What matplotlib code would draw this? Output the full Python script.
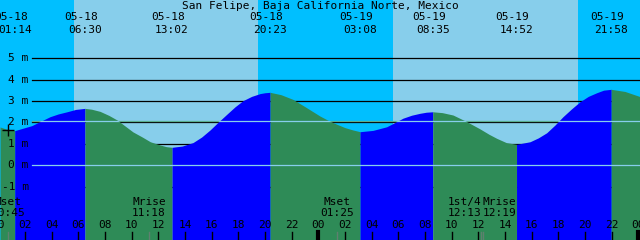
import numpy as np
import matplotlib
matplotlib.use("Agg")
import matplotlib.pyplot as plt
from matplotlib.transforms import blended_transform_factory

# tide level (hours from 05-18 00:00, metres)
tide_hours = [0.13, 0.7, 1.233, 2.5, 3.88, 4.5, 5.15, 5.8, 6.5,
              7.0, 7.63, 8.3, 8.9, 9.5, 10.1, 10.8, 11.4, 12.13, 12.6, 13.033,
              13.8, 14.6, 15.25, 15.88, 16.5, 17.13, 17.75, 18.35, 19.0, 19.63, 20.0, 20.383,
              21.2, 22.1, 23.1, 24.13, 24.8, 25.38, 26.0, 26.6, 27.133,
              28.1, 29.13, 29.75, 30.35, 31.0, 31.63, 32.1, 32.583,
              33.3, 34.1, 35.1, 36.13, 36.8, 37.38, 38.1, 38.867,
              39.88, 40.5, 41.13, 41.75, 42.35, 43.0, 43.63, 44.25, 44.88, 45.4, 45.967,
              47.0, 48.13]
tide_m = [1.79, 1.67, 1.62, 1.85, 2.27, 2.40, 2.50, 2.61, 2.66,
          2.62, 2.52, 2.33, 2.12, 1.84, 1.56, 1.32, 1.10, 0.95, 0.87, 0.84,
          0.90, 1.06, 1.32, 1.65, 2.02, 2.38, 2.73, 3.02, 3.22, 3.35, 3.39, 3.41,
          3.30, 3.08, 2.70, 2.30, 2.08, 1.92, 1.76, 1.65, 1.57,
          1.63, 1.80, 2.00, 2.20, 2.34, 2.43, 2.48, 2.50,
          2.46, 2.35, 2.05, 1.70, 1.45, 1.26, 1.06, 0.98,
          1.10, 1.28, 1.52, 1.88, 2.27, 2.64, 2.97, 3.22, 3.39, 3.51, 3.55,
          3.45, 3.21]

# high / low tide events
ext_date = ["05-18", "05-18", "05-18", "05-18", "05-19", "05-19", "05-19", "05-19"]
ext_time = ["01:14", "06:30", "13:02", "20:23", "03:08", "08:35", "14:52", "21:58"]
ext_kind = ["low", "high", "low", "high", "low", "high", "low", "high"]

# sun
sunrise = [5.68, 29.6]
sunset = [19.48, 43.48]

# moon events
moon_name = ["Mset", "Mrise", "Mset", "1st/4", "Mrise"]
moon_time = ["00:45", "11:18", "01:25", "12:13", "12:19"]
moon_day = [0, 0, 1, 1, 1]

levels = [-1, 0, 1, 2, 3, 4, 5]
msl = 2.08
now_hour, now_level = 0.69, 1.67
title = "San Felipe, Baja California Norte, Mexico"


def to_hours(s, day):
    h, m = s.split(":")
    return day * 24 + int(h) + int(m) / 60.0


ext_day = [0 if d == "05-18" else 1 for d in ext_date]
ext_hours = [to_hours(s, d) for s, d in zip(ext_time, ext_day)]
moon_hours = [to_hours(s, d) for s, d in zip(moon_time, moon_day)]

xlim = (0.1275, 48.1275)
ylim = (-3.491, 7.724)

fig = plt.figure(figsize=(6.4, 2.4), dpi=100)
ax = fig.add_axes([0, 0, 1, 1])
ax.set_xlim(*xlim)
ax.set_ylim(*ylim)
ax.axis("off")
ax.add_patch(plt.Rectangle((0, 0), 1, 1, transform=ax.transAxes,
                           color="#87ceeb", zorder=0))
bt = blended_transform_factory(ax.transData, ax.transAxes)

# night bands
night = [(xlim[0], sunrise[0]), (sunset[0], sunrise[1]), (sunset[1], xlim[1])]
for a, b in night:
    ax.axvspan(a, b, color="#00bfff", lw=0, zorder=0.5)

# grid lines (under water)
for lv in levels:
    if lv != 0:
        ax.axhline(lv, xmin=0.05, xmax=1, color="black", lw=0.9, zorder=1)
ax.axhline(msl, xmin=0.05, xmax=1, color="#5aae90", lw=0.9, zorder=1.2)

# water, blue when rising, green when falling
t = np.array(tide_hours)
h = np.array(tide_m)
bounds = [0] + [int(np.argmin(np.abs(t - e))) for e in ext_hours] + [len(t) - 1]
kinds = ext_kind + ["low"]
for i in range(len(bounds) - 1):
    a, b = bounds[i], bounds[i + 1]
    if a == b:
        continue
    col = "#0000ff" if kinds[i] == "high" else "#2e8b57"
    ax.fill_between(t[a:b + 1], h[a:b + 1], ylim[0], color=col, lw=0, zorder=2)
water = ax.fill_between(t, h, ylim[0], color="none", lw=0)

# light lines over water
ax.axhline(0, xmin=0.05, xmax=1, color="#87ceeb", lw=0.9, zorder=3)
ln = ax.axhline(msl, xmin=0.05, xmax=1, color="#87ceeb", lw=0.9, zorder=3)
ln.set_clip_path(water.get_paths()[0], ax.transData)

fs = 8
font = dict(family="DejaVu Sans Mono", fontsize=fs, zorder=5)

# level labels
for lv in levels:
    ax.text(2.27, lv, f"{lv} m", ha="right", va="center", **font)

ax.plot(now_hour, now_level, marker="+", ms=9, mew=1, color="black", zorder=5)

# title and tide events
ax.text(0.5, 0.975, title, transform=ax.transAxes, ha="center", va="center", **font)
for d, s, x in zip(ext_date, ext_time, ext_hours):
    ax.text(x - 0.3, 0.929, d, transform=bt, ha="center", va="center", **font)
    ax.text(x, 0.875, s, transform=bt, ha="center", va="center", **font)

# moon events
moon_ha = ["center", "center", "center", "right", "left"]
for n, s, x, al in zip(moon_name, moon_time, moon_hours, moon_ha):
    ax.text(x, 0.16, n, transform=bt, ha=al, va="center", **font)
    ax.text(x, 0.111, s, transform=bt, ha=al, va="center", **font)
    ax.plot([x, x], [0, 0.035], transform=bt, color="#5f7f6f", lw=1, zorder=4)

# hour axis
for hr in range(0, 49, 2):
    ax.text(hr, 0.0625, f"{hr % 24:02d}", transform=bt, ha="center", va="center", **font)
    lw = 3 if hr % 24 == 0 else 1
    ax.plot([hr, hr], [0, 0.035], transform=bt, color="black", lw=lw, zorder=4)

fig.savefig("out.png", dpi=100)
